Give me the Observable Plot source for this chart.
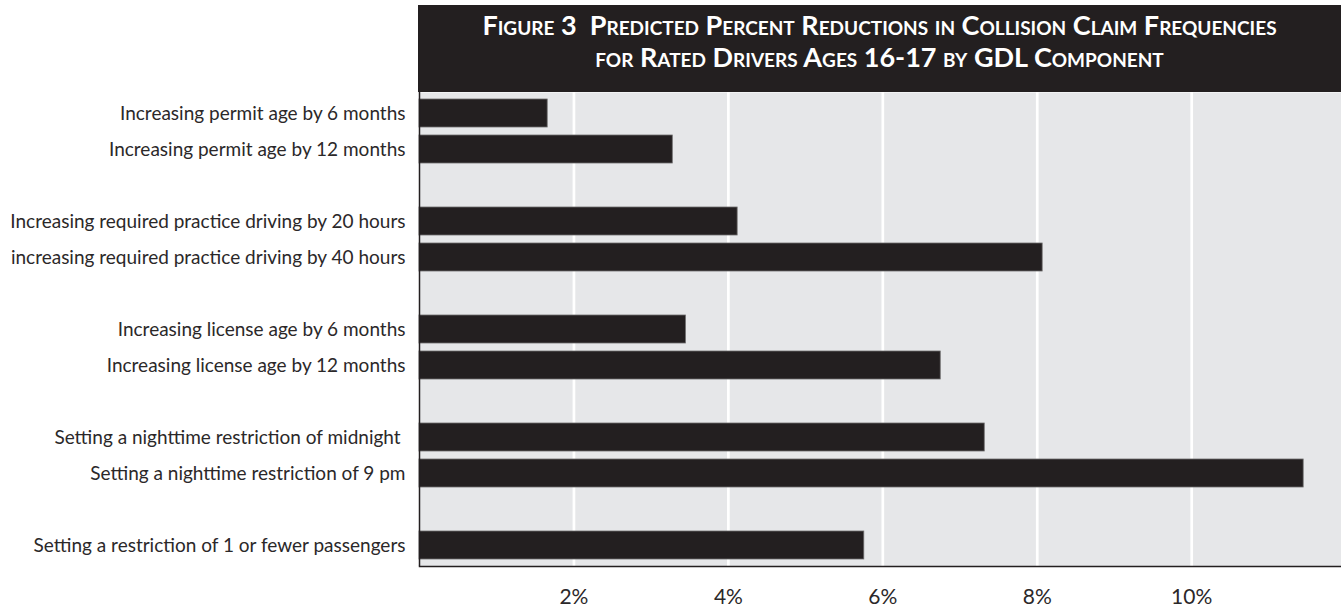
<!DOCTYPE html>
<html>
<head>
<meta charset="utf-8">
<script src="https://cdn.jsdelivr.net/npm/d3@7"></script>
<script src="https://cdn.jsdelivr.net/npm/@observablehq/plot@0.6"></script>
<style>
  html, body { margin: 0; padding: 0; background: #ffffff; }
  #wrap { position: relative; width: 1341px; height: 611px; overflow: hidden; }
  #title {
    position: absolute; left: 418px; top: 5px; width: 923px; height: 87px;
    background: #231f20; color: #ffffff;
    font-family: Lato, "Open Sans", sans-serif; font-weight: 700;
    font-variant: small-caps; font-size: 27px; line-height: 32px;
    text-align: center; box-sizing: border-box; padding-top: 4px;
  }
  #chart { position: absolute; left: 0; top: 92px; }
</style>
</head>
<body>
<div id="wrap">
  <div id="title">Figure 3&nbsp; Predicted Percent Reductions in Collision Claim Frequencies<br>for Rated Drivers Ages 16-17 by GDL Component</div>
  <div id="chart"></div>
</div>
<script>
// GDL components and their predicted percent reductions
const labels = [
  "Increasing permit age by 6 months",
  "Increasing permit age by 12 months",
  "Increasing required practice driving by 20 hours",
  "increasing required practice driving by 40 hours",
  "Increasing license age by 6 months",
  "Increasing license age by 12 months",
  "Setting a nighttime restriction of midnight\u00a0",
  "Setting a nighttime restriction of 9 pm",
  "Setting a restriction of 1 or fewer passengers"
];
const values = [1.66, 3.28, 4.12, 8.07, 3.45, 6.75, 7.32, 11.45, 5.76];
const groups = ["permit", "permit", "practice", "practice", "license", "license", "night", "night", "passengers"];
const xTicks = [2, 4, 6, 8, 10];

const data = labels.map((label, i) => ({label, value: values[i], group: groups[i]}));

// y domain: one band per component, with an empty band between groups
const domain = [];
const spacers = new Set();
data.forEach((d, i) => {
  if (i > 0 && d.group !== data[i - 1].group) {
    const key = `spacer-${i}`;
    spacers.add(key);
    domain.push(key);
  }
  domain.push(d.label);
});

const ink = "#231f20";

const chart = Plot.plot({
  width: 1341,
  height: 519,
  marginLeft: 419,
  marginRight: 0,
  marginTop: 0,
  marginBottom: 45,
  style: {fontFamily: "Lato, 'Open Sans', sans-serif", color: ink, background: "transparent"},
  x: {domain: [0, 11.94], axis: null, label: null},
  y: {domain, paddingInner: 0.214, paddingOuter: 0.14, axis: null, label: null},
  marks: [
    Plot.frame({fill: "#e6e7e9", stroke: null}),
    Plot.ruleX(xTicks, {stroke: "#ffffff", strokeWidth: 2.7}),
    Plot.barX(data, {x: "value", y: "label", fill: ink, stroke: "#6d6b6b", strokeWidth: 0.8}),
    Plot.ruleX([0], {stroke: ink, strokeWidth: 1.5}),
    Plot.frame({anchor: "bottom", stroke: ink, strokeWidth: 1.5}),
    Plot.axisY({
      label: null, tickSize: 0, tickPadding: 14, fontSize: 19,
      fill: "#2b2829",
      tickFormat: d => spacers.has(d) ? "" : d
    }),
    Plot.axisX(xTicks, {
      label: null, tickSize: 0, tickPadding: 23, fontSize: 21,
      fill: "#2b2829",
      tickFormat: d => `${d}%`
    })
  ]
});

document.getElementById("chart").appendChild(chart);
</script>
</body>
</html>
